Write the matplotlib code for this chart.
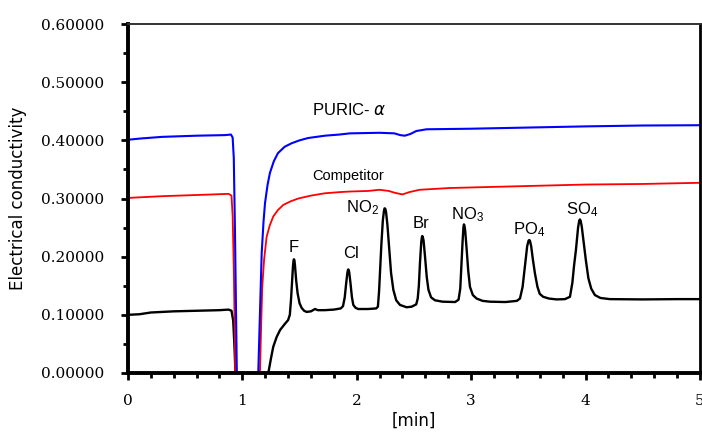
import numpy as np
import matplotlib
matplotlib.use("Agg")
import matplotlib.pyplot as plt
from matplotlib.ticker import MultipleLocator, FormatStrFormatter

# chromatogram traces: time [min], conductivity
puric_t = [0.00, 0.10, 0.30, 0.60, 0.85, 0.90, 0.915, 0.925, 0.935, 0.945, 0.955,
           1.13, 1.139, 1.155, 1.169, 1.185, 1.198, 1.22, 1.241, 1.275, 1.311, 1.37,
           1.431, 1.50, 1.575, 1.722, 1.85, 1.94, 2.2, 2.33, 2.38, 2.42, 2.47, 2.52,
           2.61, 3.0, 3.5, 4.0, 4.5, 5.0]
puric_y = [0.401, 0.403, 0.406, 0.408, 0.409, 0.410, 0.405, 0.370, 0.250, 0.100, -0.05,
           -0.05, 0.000, 0.110, 0.206, 0.260, 0.292, 0.323, 0.344, 0.364, 0.378, 0.389,
           0.395, 0.400, 0.404, 0.408, 0.410, 0.412, 0.413, 0.412, 0.409, 0.408, 0.411, 0.416,
           0.419, 0.420, 0.422, 0.424, 0.4255, 0.426]

comp_t = [0.00, 0.30, 0.60, 0.88, 0.905, 0.915, 0.925, 0.935, 0.94,
          1.145, 1.154, 1.164, 1.174, 1.19, 1.212, 1.24, 1.27, 1.31, 1.358, 1.42,
          1.489, 1.60, 1.722, 1.85, 1.94, 2.1, 2.2, 2.28, 2.33, 2.40, 2.46, 2.55,
          2.81, 3.2, 3.6, 4.0, 4.5, 5.0]
comp_y = [0.301, 0.304, 0.306, 0.308, 0.305, 0.270, 0.180, 0.050, -0.05,
          -0.05, 0.000, 0.080, 0.148, 0.195, 0.234, 0.254, 0.269, 0.280, 0.289, 0.295,
          0.300, 0.305, 0.309, 0.311, 0.312, 0.313, 0.315, 0.313, 0.310, 0.307, 0.311, 0.315,
          0.318, 0.320, 0.322, 0.324, 0.325, 0.327]

sample_t = [0.00, 0.10, 0.20, 0.40, 0.60, 0.80, 0.88, 0.905, 0.92, 0.93, 0.94, 0.95,
            1.21, 1.227, 1.25, 1.27, 1.30, 1.33, 1.37, 1.40, 1.415, 1.425, 1.435, 1.443,
            1.448, 1.451, 1.455, 1.46, 1.47, 1.483, 1.50, 1.518, 1.54, 1.562, 1.60, 1.635,
            1.66, 1.72, 1.80, 1.86, 1.88, 1.895, 1.908, 1.918, 1.923, 1.926, 1.93, 1.935,
            1.945, 1.958, 1.97, 1.99, 2.013, 2.10, 2.17, 2.185, 2.195, 2.205, 2.215, 2.228,
            2.238, 2.243, 2.246, 2.25, 2.256, 2.268, 2.285, 2.30, 2.32, 2.345, 2.378, 2.436,
            2.48, 2.52, 2.533, 2.543, 2.553, 2.564, 2.57, 2.573, 2.577, 2.584, 2.597, 2.612,
            2.627, 2.65, 2.684, 2.75, 2.86, 2.89, 2.905, 2.915, 2.925, 2.933, 2.937, 2.941,
            2.948, 2.96, 2.975, 2.99, 3.015, 3.048, 3.10, 3.164, 3.30, 3.40, 3.427, 3.45,
            3.47, 3.49, 3.502, 3.508, 3.514, 3.525, 3.54, 3.558, 3.58, 3.60, 3.63, 3.68,
            3.747, 3.82, 3.864, 3.885, 3.90, 3.916, 3.935, 3.945, 3.951, 3.957, 3.967, 3.985,
            4.003, 4.025, 4.05, 4.082, 4.13, 4.213, 4.5, 4.8, 5.0]
sample_y = [0.100, 0.101, 0.104, 0.106, 0.107, 0.108, 0.109, 0.107, 0.090, 0.050, 0.000, -0.05,
            -0.05, 0.000, 0.025, 0.045, 0.062, 0.074, 0.084, 0.091, 0.100, 0.125, 0.160, 0.185,
            0.194, 0.1955, 0.194, 0.185, 0.160, 0.137, 0.120, 0.112, 0.107, 0.105, 0.106, 0.110,
            0.108, 0.108, 0.109, 0.111, 0.115, 0.130, 0.155, 0.172, 0.177, 0.178, 0.177, 0.172,
            0.155, 0.130, 0.117, 0.112, 0.110, 0.110, 0.111, 0.114, 0.140, 0.180, 0.220, 0.262,
            0.279, 0.283, 0.283, 0.282, 0.277, 0.255, 0.210, 0.172, 0.143, 0.125, 0.117, 0.113,
            0.114, 0.118, 0.128, 0.150, 0.190, 0.225, 0.234, 0.2355, 0.234, 0.228, 0.200, 0.165,
            0.143, 0.130, 0.125, 0.1226, 0.122, 0.126, 0.145, 0.185, 0.225, 0.251, 0.2555, 0.254,
            0.245, 0.215, 0.175, 0.148, 0.134, 0.128, 0.124, 0.1226, 0.122, 0.124, 0.128, 0.148,
            0.183, 0.218, 0.2275, 0.2286, 0.2275, 0.218, 0.195, 0.171, 0.148, 0.136, 0.131, 0.128,
            0.1265, 0.127, 0.131, 0.155, 0.185, 0.211, 0.250, 0.262, 0.264, 0.262, 0.252, 0.223,
            0.194, 0.163, 0.145, 0.134, 0.129, 0.127, 0.1265, 0.127, 0.127]

peak_names = ["F", "Cl", r"$\mathregular{NO_2}$", "Br", r"$\mathregular{NO_3}$",
              r"$\mathregular{PO_4}$", r"$\mathregular{SO_4}$"]
peak_label_x = [1.45, 1.95, 2.05, 2.56, 2.97, 3.51, 3.97]
peak_label_y = [0.215, 0.205, 0.284, 0.257, 0.273, 0.246, 0.28]

fig = plt.figure(figsize=(7.02, 4.32), dpi=100)
ax = fig.add_axes([0.1823, 0.1366, 0.8147, 0.8078])

ax.plot(sample_t, sample_y, color="black", lw=1.7)
ax.plot(comp_t, comp_y, color="#ff0000", lw=1.3)
ax.plot(puric_t, puric_y, color="#0000ff", lw=1.5)

ax.set_xlim(0, 5)
ax.set_ylim(0, 0.6)
ax.xaxis.set_major_locator(MultipleLocator(1))
ax.xaxis.set_minor_locator(MultipleLocator(0.2))
ax.yaxis.set_major_locator(MultipleLocator(0.1))
ax.yaxis.set_minor_locator(MultipleLocator(0.05))
ax.yaxis.set_major_formatter(FormatStrFormatter("%.5f"))

for lab in ax.get_xticklabels() + ax.get_yticklabels():
    lab.set_fontfamily("DejaVu Serif")
    lab.set_fontsize(11)
ax.tick_params(which="major", direction="out", length=5, width=2)
ax.tick_params(axis="y", which="major", pad=12)
ax.tick_params(axis="x", which="major", pad=10)
ax.tick_params(which="minor", direction="out", length=3.5, width=2)

ax.spines["left"].set_linewidth(2.8)
ax.spines["bottom"].set_linewidth(2.8)
ax.spines["right"].set_linewidth(2.0)
ax.spines["top"].set_linewidth(1.4)
ax.spines["top"].set_color("#333333")

ax.set_ylabel("Electrical conductivity", fontsize=12, family="DejaVu Sans", labelpad=10)
ax.set_xlabel("[min]", fontsize=12, family="DejaVu Sans", labelpad=3)

for name, px, py in zip(peak_names, peak_label_x, peak_label_y):
    ax.text(px, py, name, ha="center", va="center", fontsize=12, family="Liberation Sans")

ax.text(1.61, 0.452, r"PURIC- $\alpha$", ha="left", va="center", fontsize=12,
        family="Liberation Sans")
ax.text(1.61, 0.339, "Competitor", ha="left", va="center", fontsize=10.5,
        family="Liberation Sans")

fig.savefig("out.png", dpi=100)
